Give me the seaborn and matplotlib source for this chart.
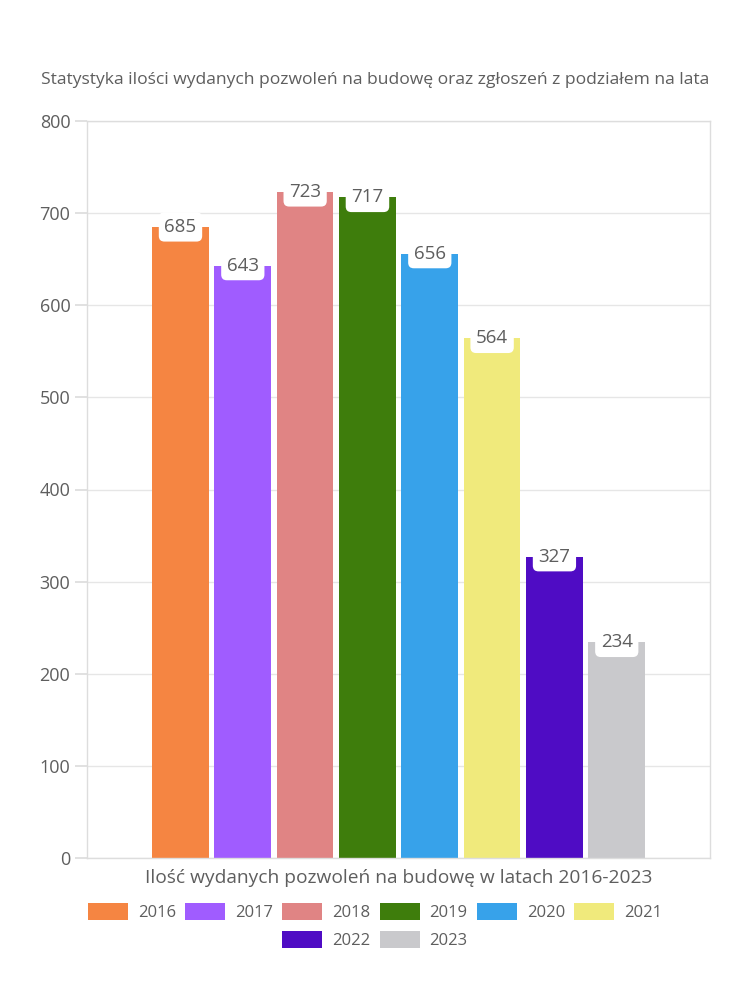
import matplotlib
matplotlib.use("Agg")
import matplotlib.pyplot as plt
import seaborn as sns
import pandas as pd
from matplotlib.patches import Patch

title = "Statystyka ilości wydanych pozwoleń na budowę oraz zgłoszeń z podziałem na lata"
category = "Ilość wydanych pozwoleń na budowę w latach 2016-2023"
years = ["2016", "2017", "2018", "2019", "2020", "2021", "2022", "2023"]
values = [685, 643, 723, 717, 656, 564, 327, 234]
colors = ["#F58542", "#A05CFF", "#E08484", "#3E7D0C", "#37A2EA", "#F0EA7C", "#4F0CC4", "#C9C9CC"]
yticks = [0, 100, 200, 300, 400, 500, 600, 700, 800]

sns.set_theme(style="white")
plt.rcParams["font.family"] = ["Open Sans", "DejaVu Sans"]
TXT = "#5E5E5E"

df = pd.DataFrame({"cat": [category] * len(years), "year": years, "value": values})

fig = plt.figure(figsize=(7.5, 10), dpi=100)
ax = fig.add_axes([0.116, 0.142, 0.831, 0.737])

sns.barplot(data=df, x="cat", y="value", hue="year", palette=colors,
            width=0.8, dodge=True, gap=0.09, linewidth=0,
            ax=ax, legend=False, saturation=1)

ax.set_ylim(0, 800)
ax.set_xlim(-0.5, 0.5)
ax.set_yticks(yticks)
ax.set_yticklabels([str(t) for t in yticks], fontsize=13, color=TXT)
ax.grid(axis="y", color="#E6E6E6", linewidth=1)
ax.set_axisbelow(True)
for s in ax.spines.values():
    s.set_color("#DDDDDD")
    s.set_linewidth(1)
ax.tick_params(axis="y", length=9, color="#DDDDDD", pad=3, left=True)
ax.tick_params(axis="x", length=0, pad=8)
ax.set_xticks([0])
ax.set_xticklabels([category], fontsize=13.8, color=TXT)
ax.set_xlabel("")
ax.set_ylabel("")

# value labels in white rounded boxes at bar tops
for patch, v in zip(ax.patches, values):
    cx = patch.get_x() + patch.get_width() / 2
    ax.text(cx, v, str(v), ha="center", va="center", fontsize=13.5, color=TXT,
            bbox=dict(boxstyle="round,pad=0.3,rounding_size=0.3", fc="white", ec="none"),
            zorder=5)

fig.text(0.5, 0.92, title, ha="center", va="center", fontsize=12.6, color=TXT)

# legend: two rows, centered
handles = [Patch(facecolor=c, edgecolor="none") for c in colors]
kw = dict(loc="center", frameon=False, fontsize=12, handlelength=2.4, handleheight=1.2,
          columnspacing=0.55, handletextpad=0.6, labelcolor=TXT)
fig.legend(handles[:6], years[:6], bbox_to_anchor=(0.5, 0.088), ncol=6, **kw)
fig.legend(handles[6:], years[6:], bbox_to_anchor=(0.5, 0.06), ncol=2, **kw)

fig.savefig("out.png", dpi=100, facecolor="white")
